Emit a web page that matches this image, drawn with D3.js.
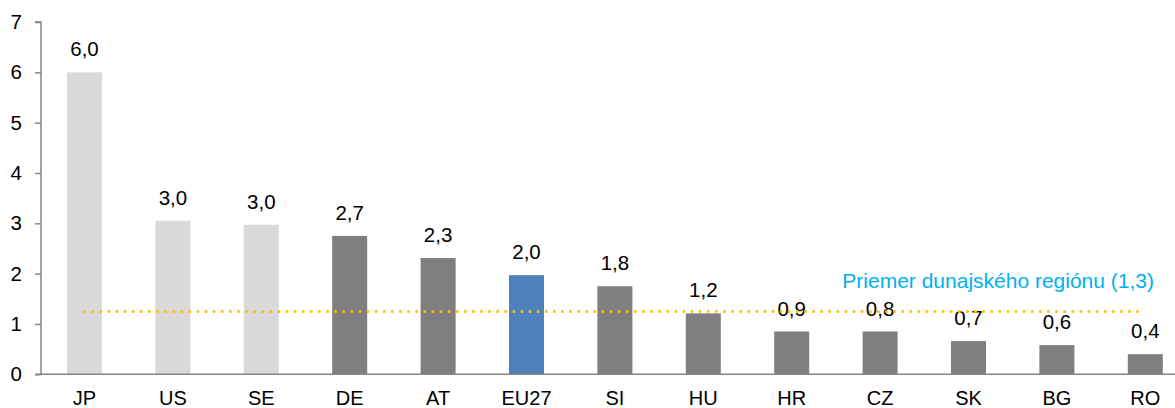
<!DOCTYPE html>
<html>
<head>
<meta charset="utf-8">
<script src="https://cdn.jsdelivr.net/npm/d3@7"></script>
<style>
  body { margin: 0; background: #fff; }
  text { font-family: "Liberation Sans", Arial, sans-serif; fill: #000; }
</style>
</head>
<body>
<div id="chart"></div>
<script>
// data
var countries = ["JP", "US", "SE", "DE", "AT", "EU27", "SI", "HU", "HR", "CZ", "SK", "BG", "RO"];
var values = [6.0, 3.05, 2.97, 2.75, 2.31, 1.97, 1.75, 1.21, 0.85, 0.85, 0.66, 0.58, 0.40];
var valueLabels = ["6,0", "3,0", "3,0", "2,7", "2,3", "2,0", "1,8", "1,2", "0,9", "0,8", "0,7", "0,6", "0,4"];
var groups = ["ref", "ref", "ref", "dr", "dr", "eu", "dr", "dr", "dr", "dr", "dr", "dr", "dr"];
var yTicks = [0, 1, 2, 3, 4, 5, 6, 7];
var avgValue = 1.25;
var avgLabel = "Priemer dunajského regiónu (1,3)";

var svgWidth = 1175;
var svgHeight = 408;

var colors = { ref: "#d9d9d9", dr: "#7f7f7f", eu: "#4f81bd" };

var data = countries.map(function(c, i) {
  return { country: c, value: values[i], label: valueLabels[i], group: groups[i] };
});

var svg = d3.select("#chart")
  .append("svg")
  .attr("width", svgWidth)
  .attr("height", svgHeight);

var xScale = d3.scaleBand()
  .domain(countries)
  .range([40.3, 1189.5])
  .paddingInner(0.604)
  .paddingOuter(0.302);

var yScale = d3.scaleLinear()
  .domain([0, 7])
  .range([374.3, 22]);

// bars
svg.selectAll("rect.bar")
  .data(data)
  .enter()
  .append("rect")
  .attr("class", "bar")
  .attr("x", d => xScale(d.country))
  .attr("y", d => yScale(d.value))
  .attr("width", xScale.bandwidth())
  .attr("height", d => yScale(0) - yScale(d.value))
  .attr("fill", d => colors[d.group]);

// value labels
svg.selectAll("text.val")
  .data(data)
  .enter()
  .append("text")
  .attr("class", "val")
  .attr("x", d => xScale(d.country) + xScale.bandwidth() / 2)
  .attr("y", d => yScale(d.value) - 16)
  .attr("text-anchor", "middle")
  .style("font-size", "20.5px")
  .text(d => d.label);

// y axis
var leftAxis = d3.axisLeft(yScale)
  .tickValues(yTicks)
  .tickSize(6)
  .tickPadding(13)
  .tickFormat(d3.format("d"));

var yAxis = svg.append("g")
  .attr("transform", "translate(41, 0)")
  .call(leftAxis);

yAxis.select(".domain").attr("stroke", "#868686").attr("stroke-width", 1.5).attr("d", "M-6," + yScale(7) + "H0V" + yScale(0));
yAxis.selectAll(".tick line").attr("stroke", "#868686").attr("stroke-width", 1.5);
yAxis.selectAll(".tick text").style("font-size", "20.5px").attr("fill", "#000");

// x axis
var bottomAxis = d3.axisBottom(xScale).tickSize(0).tickPadding(17);
var xAxis = svg.append("g")
  .attr("transform", `translate(0, ${yScale(0)})`)
  .call(bottomAxis);

xAxis.select(".domain").attr("stroke", "#868686").attr("stroke-width", 1.5).attr("d", "M35,0H1175");
xAxis.selectAll(".tick text").style("font-size", "20px").attr("fill", "#000").attr("dy", "0.71em");

// average line
var x0 = xScale(countries[0]) + xScale.bandwidth() / 2;
var x1 = xScale(countries[countries.length - 1]) + xScale.bandwidth() / 2;
svg.append("line")
  .attr("x1", x0)
  .attr("x2", x1)
  .attr("y1", yScale(avgValue))
  .attr("y2", yScale(avgValue))
  .attr("stroke", "#ffc000")
  .attr("stroke-width", 3)
  .attr("stroke-linecap", "round")
  .attr("stroke-dasharray", "0.1 8");

svg.append("text")
  .attr("x", 1154)
  .attr("y", 288)
  .attr("text-anchor", "end")
  .style("font-size", "21px")
  .style("fill", "#00b0f0")
  .text(avgLabel);
</script>
</body>
</html>
